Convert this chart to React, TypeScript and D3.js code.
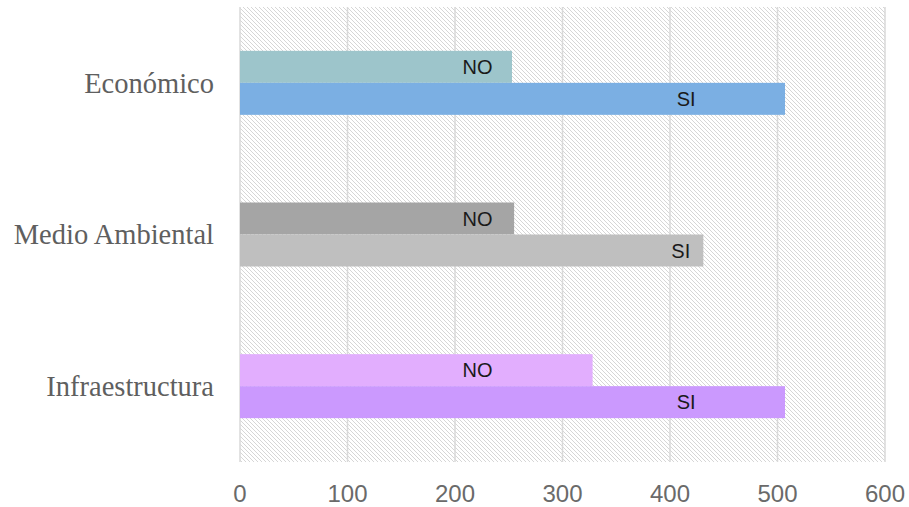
import React from "react";
import * as d3 from "d3";

const categories = ["Económico", "Medio Ambiental", "Infraestructura"];
const noValues = [253, 255, 328];
const siValues = [507, 431, 507];
const noLabelAt = [221, 221, 221];
const siLabelAt = [415, 410, 415];
const noColors = ["#9DC5CB", "#A5A5A5", "#E2AEFE"];
const siColors = ["#7BAFE3", "#BFBFBF", "#CB99FE"];
const xTicks = [0, 100, 200, 300, 400, 500, 600];

export default function App() {
  const W = 909, H = 507;
  const left = 240, right = 885, top = 7, bottom = 462;
  const x = d3.scaleLinear().domain([0, 600]).range([left, right]);
  const y = d3.scaleBand<string>().domain(categories).range([top, bottom]).paddingInner(0).paddingOuter(0);
  const barH = 32;
  return (
    <svg width={W} height={H} style={{ position: "absolute", left: 0, top: 0, background: "#fff" }}>
      <defs>
        <pattern id="hatch" width="4" height="4" patternUnits="userSpaceOnUse">
          <rect width="4" height="4" fill="#ffffff" />
          <path d="M-1,-1 L5,5 M-1,3 L1,5 M3,-1 L5,1" stroke="#d6d6d6" strokeWidth="1" />
        </pattern>
      </defs>
      <rect x={left} y={top} width={right - left} height={bottom - top} fill="url(#hatch)" />
      {xTicks.map((t) => (
        <line key={t} x1={x(t)} x2={x(t)} y1={top} y2={bottom} stroke="#d9d9d9" strokeWidth={1.5} />
      ))}
      {categories.map((c, i) => {
        const cy = (y(c) as number) + y.bandwidth() / 2;
        return (
          <g key={c}>
            <rect x={x(0)} y={cy - barH} width={x(noValues[i]) - x(0)} height={barH} fill={noColors[i]} />
            <rect x={x(0)} y={cy} width={x(siValues[i]) - x(0)} height={barH} fill={siColors[i]} />
            <text x={x(noLabelAt[i])} y={cy - barH / 2} dy="0.35em" textAnchor="middle"
              fontFamily="'Liberation Sans', Arial, sans-serif" fontSize={20} fill="#1a1a1a">NO</text>
            <text x={x(siLabelAt[i])} y={cy + barH / 2} dy="0.35em" textAnchor="middle"
              fontFamily="'Liberation Sans', Arial, sans-serif" fontSize={20} fill="#1a1a1a">SI</text>
            <text x={214} y={cy} dy="0.35em" textAnchor="end"
              fontFamily="'Liberation Serif', 'DejaVu Serif', serif" fontSize={28.5} fill="#5f5f5f">{c}</text>
          </g>
        );
      })}
      {xTicks.map((t) => (
        <text key={"l" + t} x={x(t)} y={502} textAnchor="middle"
          fontFamily="'Liberation Sans', Arial, sans-serif" fontSize={24} fill="#6a6a6a">{t}</text>
      ))}
    </svg>
  );
}
